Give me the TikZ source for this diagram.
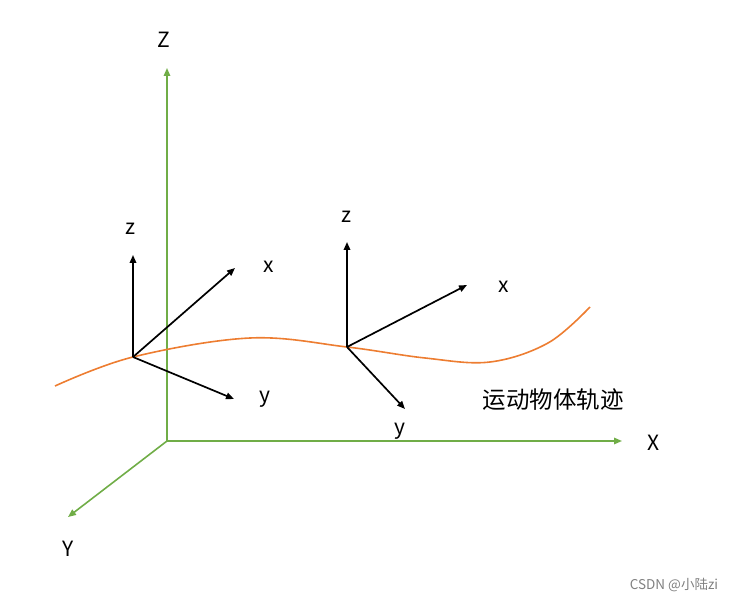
\documentclass[tikz,border=0pt]{standalone}
\usepackage{fontspec}
\setmainfont{Noto Sans CJK SC}
\usetikzlibrary{arrows.meta}

\definecolor{axisgreen}{RGB}{112,173,71}
\definecolor{pathorange}{RGB}{237,125,49}

\tikzset{
    axis/.style={axisgreen, line width=1.6pt, -{Triangle[length=8pt,width=6.5pt]}},
    frame/.style={black, line width=1.7pt, -{Triangle[length=8pt,width=6.5pt]}},
    lab/.style={font=\fontsize{21}{21}\selectfont},
}

\begin{document}
\begin{tikzpicture}[x=1pt,y=-1pt]
            \useasboundingbox (0,0) rectangle (733,601);

            % world axes
            \coordinate (O) at (167,441);
            \coordinate (Zend) at (167,68);
            \coordinate (Xend) at (622,441);
            \coordinate (Yend) at (68,517);

            \draw[axis] (O) -- (Zend);
            \draw[axis] (O) -- (Xend);
            \draw[axis] (O) -- (Yend);

            \node[lab] (Zlab) at (164,40) {Z};
            \node[lab] (Xlab) at (654,443) {X};
            \node[lab] (Ylab) at (68,549) {Y};

            % trajectory
            \draw[pathorange, line width=1.6pt] plot[smooth, tension=0.6] coordinates
                {(55,386) (133,357) (250,338) (347,347) (425,358) (490,362) (548,343) (590,307)};

            % first body frame
            \coordinate (A) at (133,357);
            \coordinate (Az) at (133,255);
            \coordinate (Ax) at (235,268);
            \coordinate (Ay) at (234,399);
            \draw[frame] (A) -- (Az);
            \draw[frame] (A) -- (Ax);
            \draw[frame] (A) -- (Ay);
            \node[lab] (Azlab) at (130,229) {z};
            \node[lab] (Axlab) at (269,267) {x};
            \node[lab] (Aylab) at (265,399) {y};

            % second body frame
            \coordinate (B) at (347,347);
            \coordinate (Bz) at (347,242);
            \coordinate (Bx) at (467,285);
            \coordinate (By) at (405,409);
            \draw[frame] (B) -- (Bz);
            \draw[frame] (B) -- (Bx);
            \draw[frame] (B) -- (By);
            \node[lab] (Bzlab) at (346,217) {z};
            \node[lab] (Bxlab) at (504,287) {x};
            \node[lab] (Bylab) at (400,431) {y};

            \node[font=\fontsize{23.5}{23.5}\selectfont] (traj) at (553,400) {运动物体轨迹};

            \node[gray, font=\fontsize{13.5}{13.5}\selectfont] (mark) at (674,585) {CSDN @小陆zi};
        \end{tikzpicture}
\end{document}
